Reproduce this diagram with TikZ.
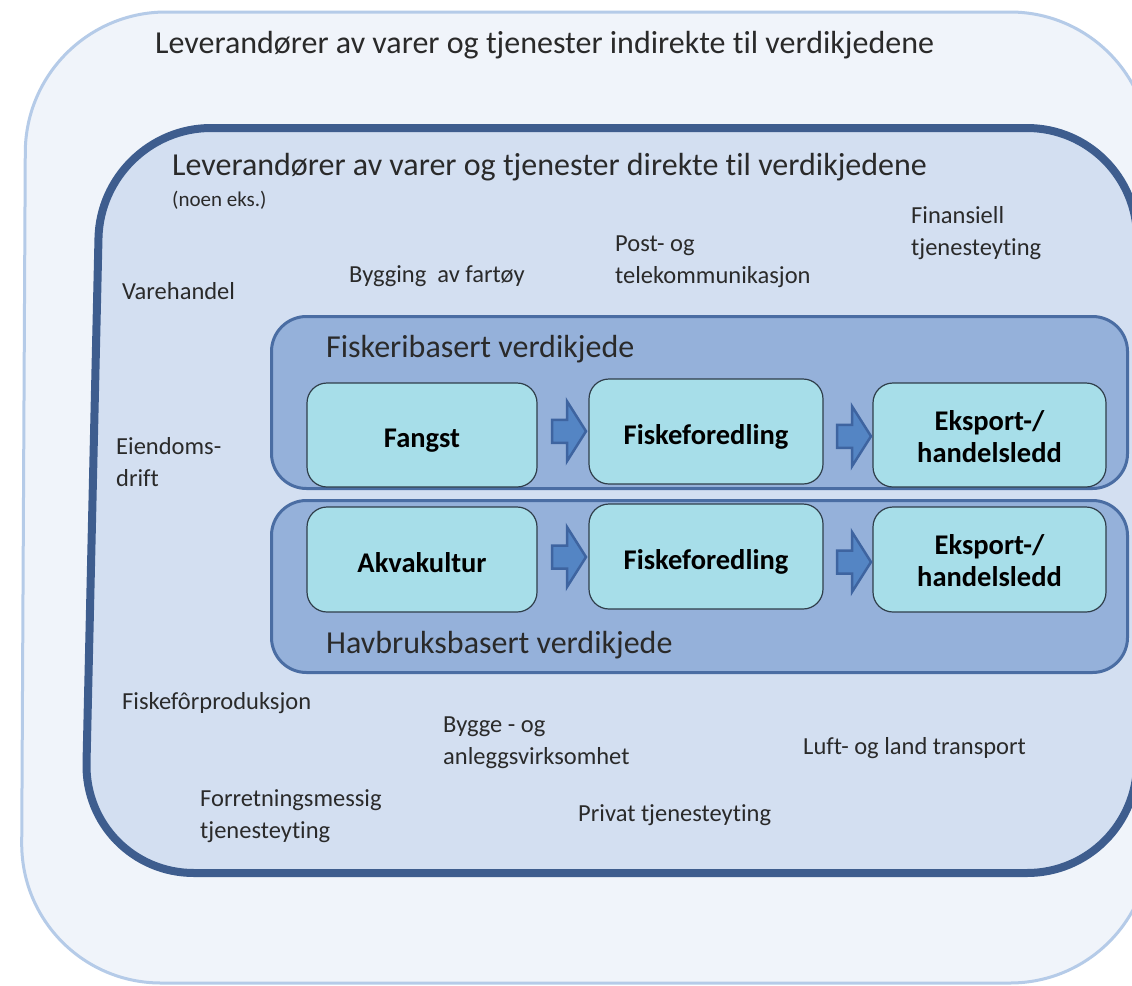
\documentclass[tikz,border=0pt]{standalone}
\usepackage{fontspec}
\setmainfont{Carlito}[Ligatures=NoCommon]
\usetikzlibrary{calc}
\definecolor{outerfill}{HTML}{F0F4FA}
\definecolor{outerline}{HTML}{B5CBE8}
\definecolor{innerfill}{HTML}{D3DFF1}
\definecolor{innerline}{HTML}{3E5D8E}
\definecolor{chainfill}{HTML}{95B1DA}
\definecolor{chainline}{HTML}{4A6DA3}
\definecolor{stagefill}{HTML}{A7DEE9}
\definecolor{stageline}{HTML}{2F3E4A}
\definecolor{arrowfill}{HTML}{5485C4}
\definecolor{arrowline}{HTML}{3E64A0}
\definecolor{labelgray}{HTML}{2A2A2A}
\begin{document}
\begin{tikzpicture}[x=1pt,y=-1pt,
  lbl/.style={anchor=base west, inner sep=0, text=labelgray, font=\fontsize{24.5}{32}\selectfont, align=left},
  title/.style={anchor=base west, inner sep=0, text=labelgray, font=\fontsize{32}{38}\selectfont},
  chainbox/.style={draw=chainline, fill=chainfill, line width=3, rounded corners=35, minimum width=856, minimum height=172, inner sep=0},
  stage/.style={draw=stageline, fill=stagefill, line width=1.2, rounded corners=20, minimum width=230, minimum height=104, inner sep=0, align=center, font=\bfseries\fontsize{28.5}{32}\selectfont, text=black, text height=26, text depth=1},
  twoline/.style={text height=60, text depth=6},
  barrow/.pic={\draw[draw=arrowline, fill=arrowfill, line width=2.5, line join=miter]
     (-17,-11.5) -- (-2,-11.5) -- (-2,-30) -- (17,0) -- (-2,30) -- (-2,11.5) -- (-17,11.5) -- cycle;}
]
\useasboundingbox (0,0) rectangle (1132,985);
\fill[white] (0,0) rectangle (1132,985);
% outer region
\draw[draw=outerline, fill=outerfill, line width=3, rounded corners=140]
  (500,12) -- (1150,12) -- (1150,983) -- (21,983) -- (26,12) -- cycle;
% inner region
\draw[draw=innerline, fill=innerfill, line width=8, rounded corners=110]
  (600,128) -- (1137,128) -- (1137,873) -- (84,873) -- (101,128) -- cycle;

\node[title] (t1) at (155,53) {Leverandører av varer og tjenester indirekte til verdikjedene};
\node[title] (t2) at (172,175) {Leverandører av varer og tjenester direkte til verdikjedene};
\node[lbl, font=\fontsize{21}{26}\selectfont] (eks) at (172,206) {(noen eks.)};

% chain containers
\node[chainbox] (chainA) at (699.5,402.5) {};
\node[chainbox] (chainB) at (699.5,586.5) {};
\node[title] (fiskchain) at (326,357) {Fiskeribasert verdikjede};
\node[title] (havchain) at (326,653) {Havbruksbasert verdikjede};

% stages
\node[stage] (fangst) at (422,435) {Fangst};
\node[stage, minimum width=234, minimum height=105] (fiskA) at (706,431.5) {Fiskeforedling};
\node[stage, twoline, minimum width=233] (eksA) at (989.5,435) {Eksport-/\\handelsledd};
\node[stage, minimum height=105] (akva) at (422,559.5) {Akvakultur};
\node[stage, minimum width=234, minimum height=105] (fiskB) at (706,556.5) {Fiskeforedling};
\node[stage, twoline, minimum width=233, minimum height=105] (eksB) at (989.5,559.5) {Eksport-/\\handelsledd};

% block arrows
\path ($(fangst.east)!0.5!(fiskA.west)$) ++(6,-2) pic {barrow};
\path ($(fiskA.east)!0.5!(eksA.west)$) ++(6,3) pic {barrow};
\path ($(akva.east)!0.5!(fiskB.west)$) ++(6,-1) pic {barrow};
\path ($(fiskB.east)!0.5!(eksB.west)$) ++(6,4) pic {barrow};

% supplier labels (base = last line baseline)
\node[lbl] (vare) at (122,299) {Varehandel};
\node[lbl] (bygg) at (349,282) {Bygging\ \ av fartøy};
\node[lbl] (post) at (615,283) {Post- og\\telekommunikasjon};
\node[lbl] (fin) at (911,255) {Finansiell\\tjenesteyting};
\node[lbl] (eien) at (116,486) {Eiendoms-\\drift};
\node[lbl] (for) at (122,709) {Fiskefôrproduksjon};
\node[lbl] (bygge) at (443,764) {Bygge - og\\anleggsvirksomhet};
\node[lbl] (luft) at (803,754) {Luft- og land transport};
\node[lbl] (forr) at (200,838) {Forretningsmessig\\tjenesteyting};
\node[lbl] (priv) at (578,821) {Privat tjenesteyting};
\end{tikzpicture}
\end{document}
